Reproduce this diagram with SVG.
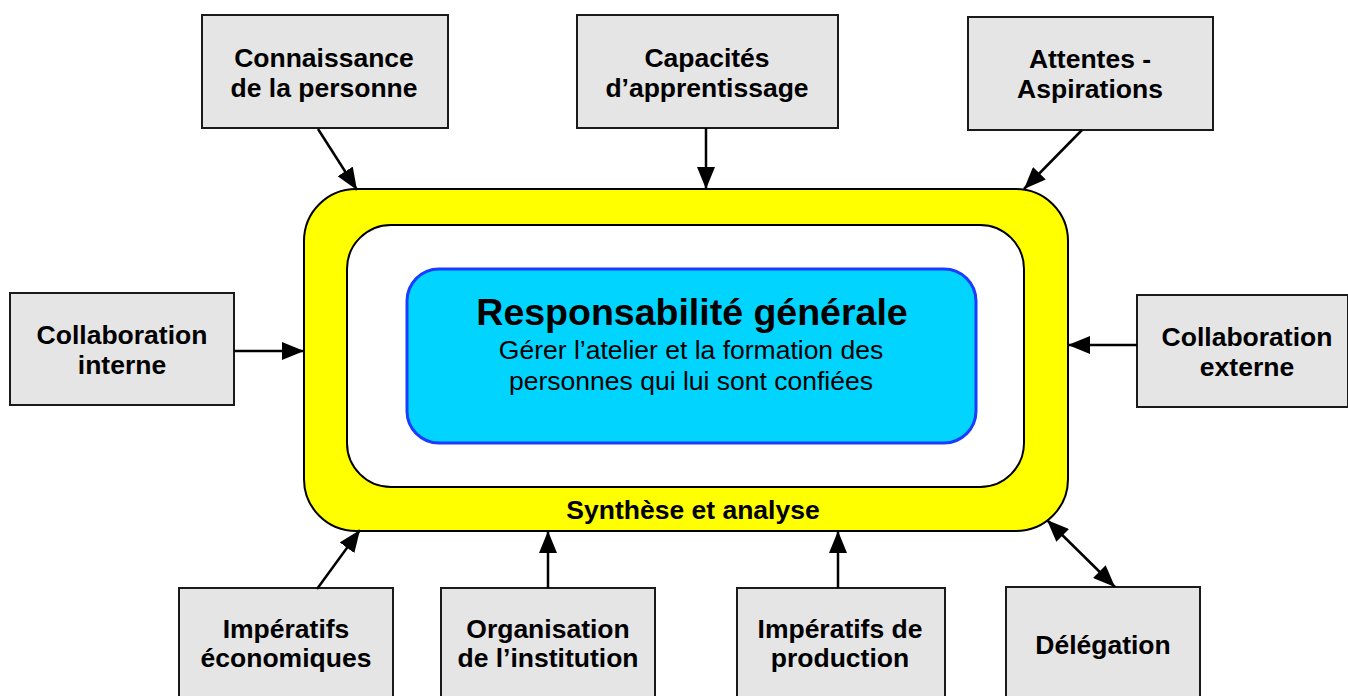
<svg xmlns="http://www.w3.org/2000/svg" width="1348" height="696" viewBox="0 0 1348 696">
<style>
.box{fill:#e5e5e5;stroke:#1a1a1a;stroke-width:2}
.lbl{font-family:"Liberation Sans",Arial,sans-serif;font-weight:bold;font-size:26.5px;fill:#000;text-anchor:middle}
.con{stroke:#000;stroke-width:2.5;fill:none}
</style>
<defs>
<marker id="ah" viewBox="0 0 22 18" refX="22" refY="9" markerWidth="22" markerHeight="18" markerUnits="userSpaceOnUse" orient="auto-start-reverse">
<path d="M0,0 L22,9 L0,18 Z" fill="#000"/>
</marker>
</defs>
<rect width="1348" height="696" fill="#fff"/>
<g id="synthese">
<rect x="304" y="189" width="764" height="342" rx="52" ry="52" fill="#ffff00" stroke="#000" stroke-width="2"/>
<rect x="347" y="225" width="677" height="262" rx="44" ry="44" fill="#fff" stroke="#000" stroke-width="2"/>
<text class="lbl" x="693" y="519">Synthèse et analyse</text>
</g>
<g id="responsabilite">
<rect x="407" y="269" width="569" height="174" rx="32" ry="32" fill="#00d4ff" stroke="#1a3cff" stroke-width="3"/>
<text x="692" y="325" font-family="Liberation Sans,Arial,sans-serif" font-weight="bold" font-size="37.5" text-anchor="middle">Responsabilité générale</text>
<text x="691" y="359" font-family="Liberation Sans,Arial,sans-serif" font-size="26.5" text-anchor="middle">Gérer l’atelier et la formation des</text>
<text x="691" y="390" font-family="Liberation Sans,Arial,sans-serif" font-size="26.5" text-anchor="middle">personnes qui lui sont confiées</text>
</g>
<g id="connaissance"><rect class="box" x="202" y="15" width="246" height="113"/><text class="lbl" x="324" y="67">Connaissance</text><text class="lbl" x="324" y="97">de la personne</text></g>
<g id="capacites"><rect class="box" x="577" y="15" width="261" height="113"/><text class="lbl" x="707" y="67">Capacités</text><text class="lbl" x="707" y="97">d’apprentissage</text></g>
<g id="attentes"><rect class="box" x="968" y="17" width="245" height="113"/><text class="lbl" x="1090" y="68">Attentes -</text><text class="lbl" x="1090" y="98">Aspirations</text></g>
<g id="collab-interne"><rect class="box" x="10" y="293" width="224" height="112"/><text class="lbl" x="122" y="344">Collaboration</text><text class="lbl" x="122" y="374">interne</text></g>
<g id="collab-externe"><rect class="box" x="1137" y="295" width="211" height="112"/><text class="lbl" x="1247" y="346">Collaboration</text><text class="lbl" x="1247" y="376">externe</text></g>
<g id="imperatifs-eco"><rect class="box" x="179" y="588" width="214" height="112"/><text class="lbl" x="286" y="638">Impératifs</text><text class="lbl" x="286" y="667">économiques</text></g>
<g id="organisation"><rect class="box" x="441" y="588" width="214" height="112"/><text class="lbl" x="548" y="638">Organisation</text><text class="lbl" x="548" y="667">de l’institution</text></g>
<g id="imperatifs-prod"><rect class="box" x="737" y="588" width="208" height="112"/><text class="lbl" x="840" y="638">Impératifs de</text><text class="lbl" x="840" y="667">production</text></g>
<g id="delegation"><rect class="box" x="1006" y="587" width="194" height="113"/><text class="lbl" x="1103" y="654">Délégation</text></g>
<g id="connectors">
<line class="con" x1="318" y1="129" x2="357" y2="190" marker-end="url(#ah)"/>
<line class="con" x1="706" y1="128" x2="706" y2="189" marker-end="url(#ah)"/>
<line class="con" x1="1082" y1="130" x2="1024" y2="189" marker-end="url(#ah)"/>
<line class="con" x1="234" y1="351" x2="304" y2="351" marker-end="url(#ah)"/>
<line class="con" x1="1137" y1="345" x2="1068" y2="345" marker-end="url(#ah)"/>
<line class="con" x1="317" y1="589" x2="360" y2="530" marker-end="url(#ah)"/>
<line class="con" x1="548" y1="588" x2="548" y2="531" marker-end="url(#ah)"/>
<line class="con" x1="838" y1="588" x2="838" y2="531" marker-end="url(#ah)"/>
<line class="con" x1="1115" y1="587" x2="1047" y2="520" marker-start="url(#ah)" marker-end="url(#ah)"/>
</g>
</svg>
